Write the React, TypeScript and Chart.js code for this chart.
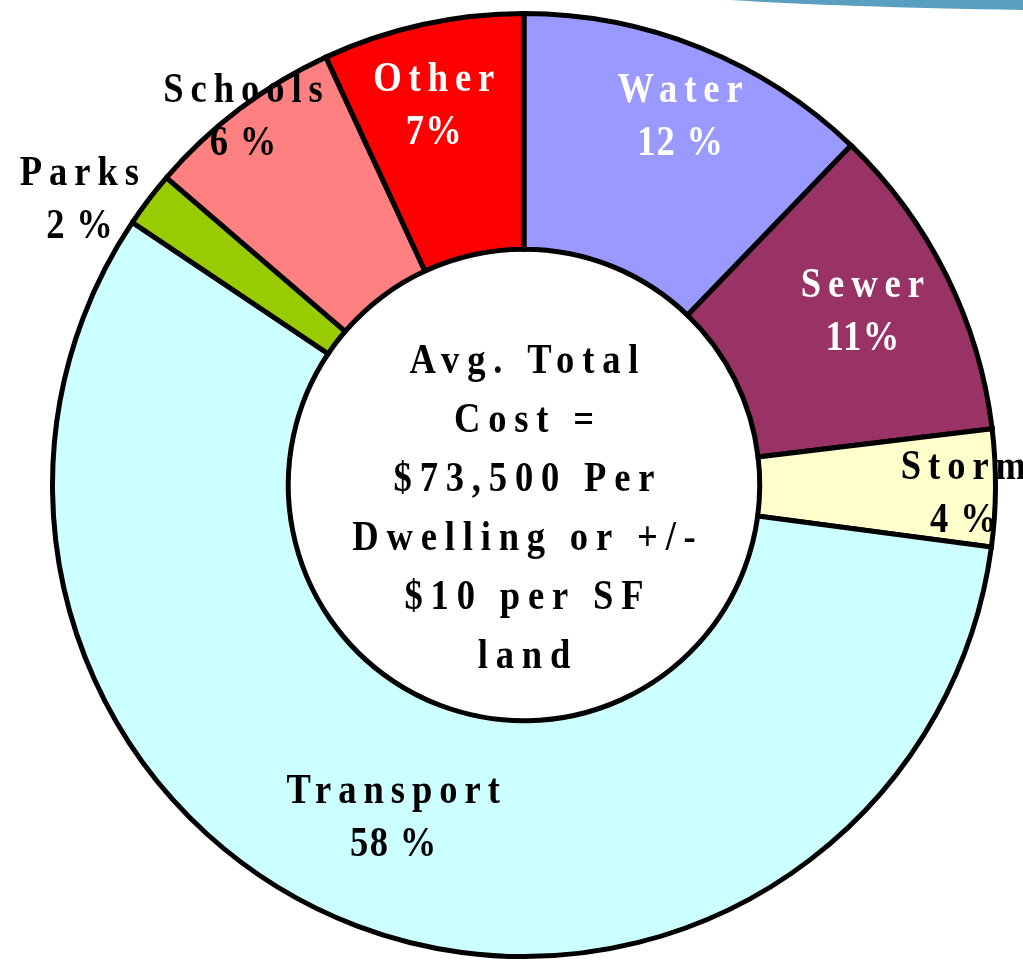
import React, { useEffect, useRef } from "react";
import { Chart, registerables } from "chart.js";

Chart.register(...registerables);

const CATEGORIES = ["Water", "Sewer", "Storm", "Transport", "Parks", "Schools", "Other"];
// slice sizes as drawn in the picture (percent of the ring)
const VALUES = [12.2, 10.9, 4.0, 57.3, 1.9, 6.8, 6.9];
const PERCENT_LABELS = ["12 %", "11%", "4 %", "58 %", "2 %", "6 %", "7%"];
const COLORS = ["#9999FF", "#993366", "#FFFFCC", "#CCFFFF", "#99CC00", "#FF8080", "#FF0000"];
const LABEL_COLORS = ["#FFFFFF", "#FFFFFF", "#000000", "#000000", "#000000", "#000000", "#FFFFFF"];
const CENTER_LINES = ["Avg. Total", "Cost =", "$73,500 Per", "Dwelling or +/-", "$10 per SF", "land"];

// label placement style: radius as fraction of outer radius, angular nudge in degrees
const LABEL_RADIUS = [0.852, 0.808, 0.932, 0.754, 1.1225, 0.986, 0.831];
const LABEL_ANGLE_NUDGE = [0.9, -0.9, 0.5, 0.9, -4.4, -0.1, -0.9];

const FONT = 'bold 42px "Liberation Serif", "Times New Roman", serif';
const SCALE_X = 0.87;
const NAME_SPACING = 8; // unscaled units
const PCT_SPACING = 1.5;
const CENTER_SPACING = 9;

function drawSpaced(ctx: CanvasRenderingContext2D, text: string, x: number, y: number, spacing: number) {
  const anyCtx = ctx as any;
  ctx.save();
  ctx.translate(x, y);
  ctx.scale(SCALE_X, 1);
  if ("letterSpacing" in anyCtx) {
    anyCtx.letterSpacing = spacing + "px";
    ctx.fillText(text, spacing / 2, 0);
  } else {
    ctx.fillText(text, 0, 0);
  }
  ctx.restore();
}

const swooshPlugin = {
  id: "swoosh",
  beforeDraw(chart: any) {
    const ctx = chart.ctx as CanvasRenderingContext2D;
    ctx.save();
    ctx.fillStyle = "#5A9FC0";
    ctx.beginPath();
    ctx.moveTo(730, 0);
    ctx.quadraticCurveTo(840, 7, 1023, 10);
    ctx.lineTo(1023, 0);
    ctx.closePath();
    ctx.fill();
    ctx.restore();
  },
};

const labelPlugin = {
  id: "sliceLabels",
  afterDatasetsDraw(chart: any) {
    const ctx = chart.ctx as CanvasRenderingContext2D;
    const meta = chart.getDatasetMeta(0);
    ctx.save();
    ctx.font = FONT;
    ctx.textAlign = "center";
    ctx.textBaseline = "alphabetic";
    let cx = 0;
    let cy = 0;
    meta.data.forEach((arc: any, i: number) => {
      const p = arc.getProps(["x", "y", "startAngle", "endAngle", "outerRadius"], true);
      cx = p.x;
      cy = p.y;
      const mid = (p.startAngle + p.endAngle) / 2 + (LABEL_ANGLE_NUDGE[i] * Math.PI) / 180;
      const r = p.outerRadius * LABEL_RADIUS[i];
      const x = p.x + r * Math.cos(mid);
      const y = p.y + r * Math.sin(mid);
      ctx.fillStyle = LABEL_COLORS[i];
      drawSpaced(ctx, CATEGORIES[i], x, y - 13, NAME_SPACING);
      drawSpaced(ctx, PERCENT_LABELS[i], x, y + 40, PCT_SPACING);
    });
    ctx.fillStyle = "#000000";
    CENTER_LINES.forEach((line, i) => {
      drawSpaced(ctx, line, cx, cy - 112 + 59 * i, CENTER_SPACING);
    });
    ctx.restore();
  },
};

export default function App() {
  const ref = useRef<HTMLCanvasElement | null>(null);
  useEffect(() => {
    if (!ref.current) return;
    const chart = new Chart(ref.current, {
      type: "doughnut",
      data: {
        labels: CATEGORIES,
        datasets: [
          {
            data: VALUES,
            backgroundColor: COLORS,
            borderColor: "#000000",
            borderWidth: 5,
            borderAlign: "center",
            borderJoinStyle: "miter",
          } as any,
        ],
      },
      options: {
        animation: false,
        responsive: false,
        maintainAspectRatio: false,
        cutout: "50%",
        rotation: 0,
        layout: { padding: { left: 50, right: 25, top: 11, bottom: 1 } },
        plugins: {
          legend: { display: false },
          tooltip: { enabled: false },
        },
      },
      plugins: [swooshPlugin, labelPlugin],
    });
    return () => chart.destroy();
  }, []);
  return (
    <div style={{ position: "fixed", left: 0, top: 0, width: 1023, height: 960, background: "#FFFFFF" }}>
      <canvas ref={ref} width={1023} height={960} style={{ display: "block", width: 1023, height: 960 }} />
    </div>
  );
}
